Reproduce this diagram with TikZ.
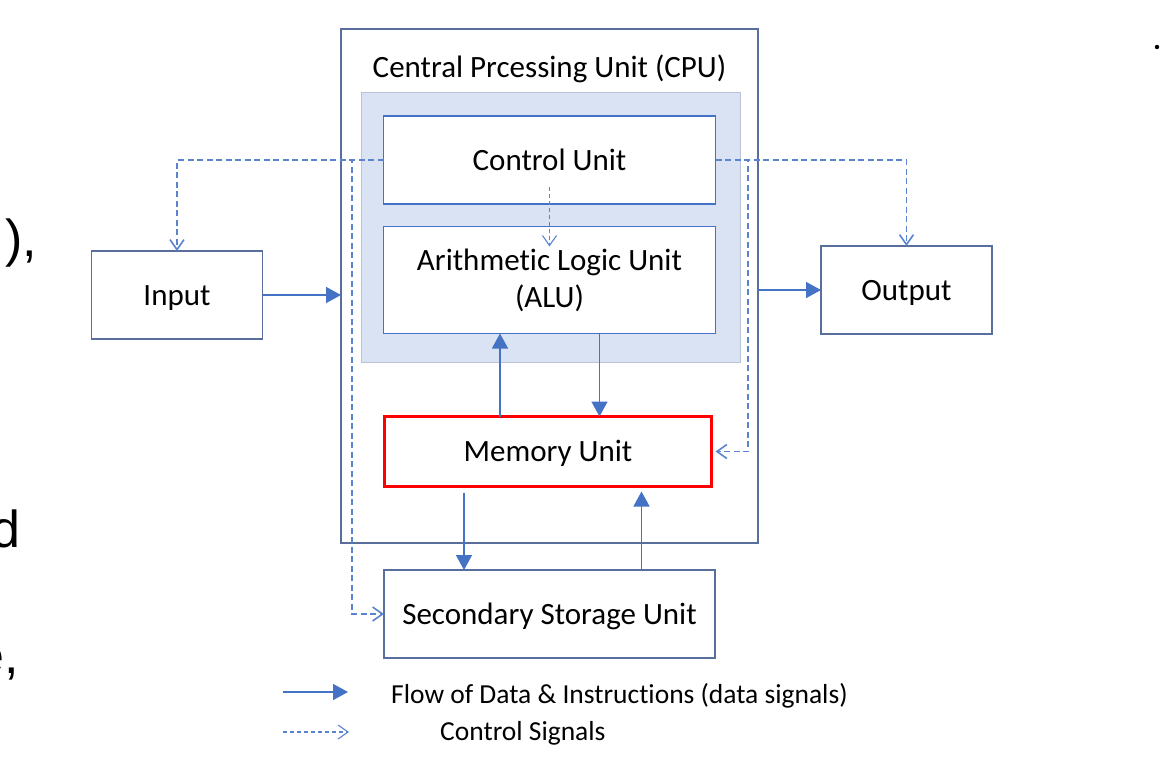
\documentclass[tikz,border=0pt]{standalone}
\usepackage{fontspec}
\setmainfont{Carlito}[Ligatures=CommonOff]
\newfontfamily\fragfont{Liberation Sans}
\usetikzlibrary{arrows.meta}
\definecolor{unitline}{HTML}{5A6E9C}
\definecolor{culine}{HTML}{4472C4}
\definecolor{flowblue}{HTML}{4472C4}
\definecolor{ctrlblue}{HTML}{5B83CF}
\definecolor{shadefill}{HTML}{DAE3F3}
\definecolor{shadeline}{HTML}{B9C3D6}
\definecolor{memred}{HTML}{FF0000}
\tikzset{
  unitbox/.style={draw=unitline, line width=1.5pt, fill=white, inner sep=0pt, outer sep=0pt,
    align=center, font=\fontsize{31}{37}\selectfont},
  oneline/.style={text height=20pt, text depth=0pt},
  cpubox/.style={unitbox, draw=culine},
  flow/.style={draw=flowblue, line width=1.5pt, -{Triangle[length=15pt,width=16pt]}},
  ctrl/.style={draw=ctrlblue, line width=1.6pt, dash pattern=on 6pt off 3.5pt,
    -{Straight Barb[length=10pt,width=14pt]}},
  ctrlfine/.style={ctrl, line width=1.1pt, dash pattern=on 4pt off 3pt},
  legend/.style={anchor=base west, inner sep=0pt, font=\fontsize{27.5}{32}\selectfont},
  frag/.style={anchor=base east, inner sep=0pt, font=\fragfont\fontsize{52}{60}\selectfont}
}
\begin{document}
\begin{tikzpicture}[x=1pt,y=-1pt]
\useasboundingbox (0,0) rectangle (1161,772);
\fill[white] (0,0) rectangle (1161,772);
\clip (0,0) rectangle (1161,772);
% CPU frame and its units
\node[unitbox, minimum width=417pt, minimum height=514pt] (cpu) at (549.5,286) {};
\node[draw=shadeline, fill=shadefill, line width=1pt, inner sep=0pt,
  minimum width=379pt, minimum height=270pt] (core) at (550.5,227) {};
\node[oneline, font=\fontsize{31}{37}\selectfont] (cputitle) at (549.5,67) {Central Prcessing Unit (CPU)};
\node[cpubox, oneline, minimum width=332pt, minimum height=88pt] (cu) at (549.5,160) {Control Unit};
\node[cpubox, minimum width=332pt, minimum height=107pt] (alu) at (549.5,280) {Arithmetic Logic Unit\\(ALU)};
\node[unitbox, oneline, draw=memred, line width=3pt, minimum width=327pt, minimum height=70pt] (mem) at (548,451.5) {Memory Unit};
\node[unitbox, oneline, minimum width=331pt, minimum height=88pt] (ssu) at (549.5,614) {Secondary Storage Unit};
\node[unitbox, oneline, minimum width=171pt, minimum height=88pt] (input) at (177,295) {Input};
\node[unitbox, oneline, minimum width=171pt, minimum height=88pt] (output) at (906.5,290) {Output};
% data signals
\coordinate (aluup) at (500,0);
\coordinate (aludn) at (599.5,0);
\coordinate (ssudn) at (464,0);
\coordinate (ssuup) at (641.5,0);
\draw[flow] (input.east) -- (input.east -| cpu.west);
\draw[flow] (output.west -| cpu.east) -- (output.west);
\draw[flow] (mem.north -| aluup) -- (alu.south -| aluup);
\draw[flow] (alu.south -| aludn) -- (mem.north -| aludn);
\draw[flow, shorten <=6pt] (mem.south -| ssudn) -- (ssu.north -| ssudn);
\draw[flow, shorten >=5pt] (ssu.north -| ssuup) -- (mem.south -| ssuup);
% control signals
\coordinate (lbus) at (352,614);
\coordinate (rbus) at (748,451.5);
\draw[ctrl] (cu.west) -| (input.north);
\draw[ctrl] (cu.west) -| (lbus) -- (ssu.west);
\draw[ctrl] (cu.east) -| (output.north);
\draw[ctrl, shorten >=4pt] (cu.east) -| (rbus) -- (mem.east);
\draw[ctrlfine] ([yshift=-27pt]cu.center) -- ([yshift=-20pt]alu.north);
% legend
\coordinate (lgflows) at (283,692);
\coordinate (lgflowe) at (348,692);
\coordinate (lgctrls) at (283,732);
\coordinate (lgctrle) at (349,732);
\draw[flow] (lgflows) -- (lgflowe);
\draw[ctrlfine] (lgctrls) -- (lgctrle);
\node[legend] (lgflow) at (391,703) {Flow of Data \& Instructions (data signals)};
\node[legend] (lgctrl) at (440,740) {Control Signals};
% cut-off slide text
\node[frag] (fraga) at (37,256) {),};
\node[frag] (fragb) at (21,547) {d};
\node[frag] (fragc) at (19,673) {e,};
\fill (1157,47) circle (2.2pt);
\end{tikzpicture}
\end{document}
